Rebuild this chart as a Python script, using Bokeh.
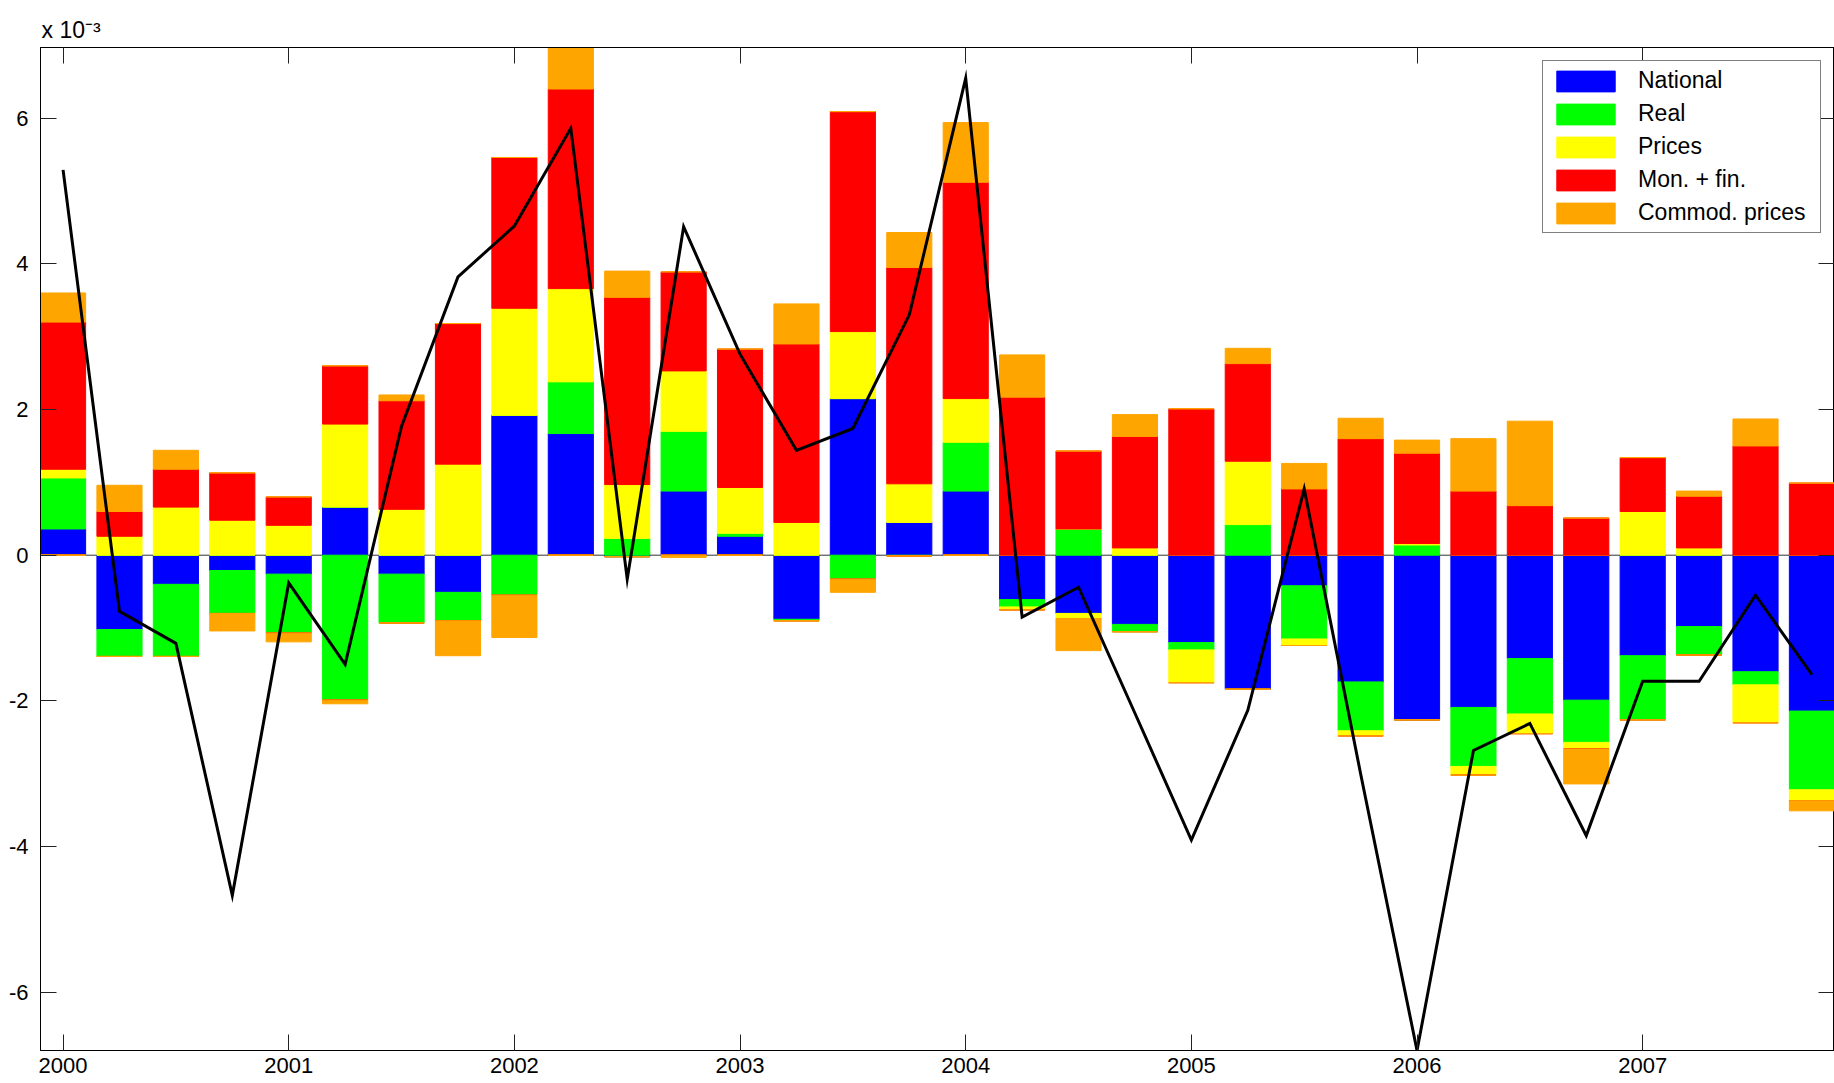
from bokeh.plotting import figure
from bokeh.models import (Range1d, LinearAxis, FixedTicker, Span, Title,
                          Legend, LegendItem, ColumnDataSource)
from bokeh.embed import file_html
from bokeh.resources import INLINE

# quarters (decimal years), 2000Q1 .. 2007Q4
quarters = [2000.00, 2000.25, 2000.50, 2000.75, 2001.00, 2001.25, 2001.50, 2001.75,
            2002.00, 2002.25, 2002.50, 2002.75, 2003.00, 2003.25, 2003.50, 2003.75,
            2004.00, 2004.25, 2004.50, 2004.75, 2005.00, 2005.25, 2005.50, 2005.75,
            2006.00, 2006.25, 2006.50, 2006.75, 2007.00, 2007.25, 2007.50, 2007.75]

# contributions (x 10^-3)
national = [0.36, -1.02, -0.40, -0.21, -0.26, 0.66, -0.26, -0.51,
            1.92, 1.67, -0.02, 0.88, 0.26, -0.88, 2.15, 0.45,
            0.88, -0.61, -0.80, -0.95, -1.20, -1.84, -0.42, -1.74,
            -2.26, -2.09, -1.42, -1.99, -1.38, -0.98, -1.60, -2.14]
real = [0.70, -0.37, -0.99, -0.59, -0.81, -1.99, -0.67, -0.39,
        -0.55, 0.71, 0.23, 0.82, 0.04, -0.02, -0.33, -0.01,
        0.67, -0.10, 0.36, -0.10, -0.10, 0.42, -0.73, -0.67,
        0.14, -0.81, -0.76, -0.58, -0.88, -0.39, -0.18, -1.08]
prices = [0.12, 0.26, 0.66, 0.48, 0.41, 1.14, 0.63, 1.25,
          1.47, 1.28, 0.74, 0.83, 0.63, 0.45, 0.92, 0.53,
          0.60, -0.04, -0.07, 0.10, -0.45, 0.87, -0.09, -0.07,
          0.02, -0.12, -0.27, -0.09, 0.60, 0.10, -0.52, -0.15]
monfin = [2.02, 0.34, 0.52, 0.65, 0.39, 0.80, 1.49, 1.93,
          2.07, 2.74, 2.57, 1.36, 1.90, 2.45, 3.02, 2.97,
          2.97, 2.17, 1.07, 1.53, 2.01, 1.34, 0.91, 1.60,
          1.24, 0.88, 0.68, 0.51, 0.74, 0.71, 1.50, 0.99]
commod = [0.40, 0.36, 0.26, -0.24, -0.12, -0.05, 0.08, -0.48,
          -0.58, 0.57, 0.36, -0.03, 0.00, 0.55, -0.18, 0.48,
          0.82, 0.58, -0.44, 0.30, 0.00, 0.21, 0.35, 0.28,
          0.18, 0.72, 1.16, -0.48, 0.00, 0.07, 0.37, -0.14]
# black line
total_line = [5.29, -0.77, -1.21, -4.67, -0.38, -1.50, 1.77, 3.82,
              4.52, 5.86, -0.33, 4.51, 2.76, 1.44, 1.74, 3.30,
              6.55, -0.85, -0.44, -2.17, -3.91, -2.13, 0.91, -3.00,
              -6.80, -2.68, -2.31, -3.85, -1.73, -1.73, -0.55, -1.64]

series_names = ["National", "Real", "Prices", "Mon. + fin.", "Commod. prices"]
series_colors = ["#0000FF", "#00FF00", "#FFFF00", "#FF0000", "#FFA500"]
series_values = [national, real, prices, monfin, commod]

year_ticks = [2000, 2001, 2002, 2003, 2004, 2005, 2006, 2007]
y_ticks = [-6, -4, -2, 0, 2, 4, 6]
y_labels = {-6: "-6", -4: "-4", -2: "-2", 0: "0", 2: "2", 4: "4", 6: "6"}
scale_text = "x 10\u207b\u00b3"

# stacking (positive and negative parts separately)
n = len(quarters)
pos_base = [0.0] * n
neg_base = [0.0] * n
stacks = []
for vals in series_values:
    pos_top = [b + max(v, 0.0) for b, v in zip(pos_base, vals)]
    neg_bot = [b + min(v, 0.0) for b, v in zip(neg_base, vals)]
    stacks.append((list(pos_base), pos_top, list(neg_base), neg_bot))
    pos_base, neg_base = pos_top, neg_bot

ymax = max(pos_base)
ymin = min(min(neg_base), min(total_line))

FONT = "Liberation Sans"

p = figure(width=1834, height=1083,
           x_range=Range1d(1999.9, 2007.85), y_range=Range1d(ymin, ymax),
           output_backend="svg", toolbar_location=None,
           min_border_left=40, min_border_right=0,
           min_border_top=47, min_border_bottom=33)
p.grid.visible = False
p.outline_line_color = "black"
p.outline_line_width = 1
p.background_fill_color = "white"

zero = Span(location=0, dimension="width", line_color="#333333",
            line_width=1, level="underlay")
p.add_layout(zero)

bar_w = 0.2
legend_items = []
for name, col, (pb, pt, nb, nt) in zip(series_names, series_colors, stacks):
    src = ColumnDataSource(dict(x=quarters, pb=pb, pt=pt, nb=nb, nt=nt))
    r = p.vbar(x="x", width=bar_w, bottom="pb", top="pt", source=src,
               fill_color=col, line_color=col, line_width=1)
    p.vbar(x="x", width=bar_w, bottom="nt", top="nb", source=src,
           fill_color=col, line_color=col, line_width=1)
    legend_items.append(LegendItem(label=name, renderers=[r]))

p.line(quarters, total_line, line_color="black", line_width=3,
       line_join="miter")

def style_axis(ax, labels=True):
    ax.axis_line_color = "black"
    ax.axis_line_width = 1
    ax.major_tick_in = 16
    ax.major_tick_out = 0
    ax.major_tick_line_color = "#222222"
    ax.major_tick_line_width = 1
    ax.minor_tick_line_color = None
    if labels:
        ax.major_label_text_font = FONT
        ax.major_label_text_font_size = "22px"
        ax.major_label_text_color = "black"
    else:
        ax.major_label_text_font_size = "0px"
        ax.major_label_standoff = 0

xa = p.xaxis[0]
xa.ticker = FixedTicker(ticks=year_ticks)
style_axis(xa)
xa.major_label_standoff = 7

ya = p.yaxis[0]
ya.ticker = FixedTicker(ticks=y_ticks)
ya.major_label_overrides = y_labels
style_axis(ya)
ya.major_label_standoff = 12

top_axis = LinearAxis(ticker=FixedTicker(ticks=year_ticks))
style_axis(top_axis, labels=False)
top_axis.major_label_overrides = {t: "" for t in year_ticks}
p.add_layout(top_axis, "above")

right_axis = LinearAxis(ticker=FixedTicker(ticks=y_ticks))
style_axis(right_axis, labels=False)
right_axis.major_label_overrides = {t: "" for t in y_ticks}
p.add_layout(right_axis, "right")

legend = Legend(items=legend_items, location="top_right")
legend.glyph_width = 73
legend.glyph_height = 26
legend.label_height = 26
legend.label_width = 176
legend.spacing = 6
legend.padding = 6
legend.label_standoff = 16
legend.margin = 13
legend.border_line_color = "black"
legend.border_line_width = 1
legend.background_fill_alpha = 1.0
legend.label_text_font = FONT
legend.label_text_font_size = "23px"
legend.label_text_color = "black"
p.add_layout(legend)

title = Title(text=scale_text, align="left", offset=1, standoff=10,
              text_font=FONT, text_font_size="23px",
              text_font_style="normal", text_color="black")
p.add_layout(title, "above")

open("out.html", "w").write(file_html(p, INLINE))
